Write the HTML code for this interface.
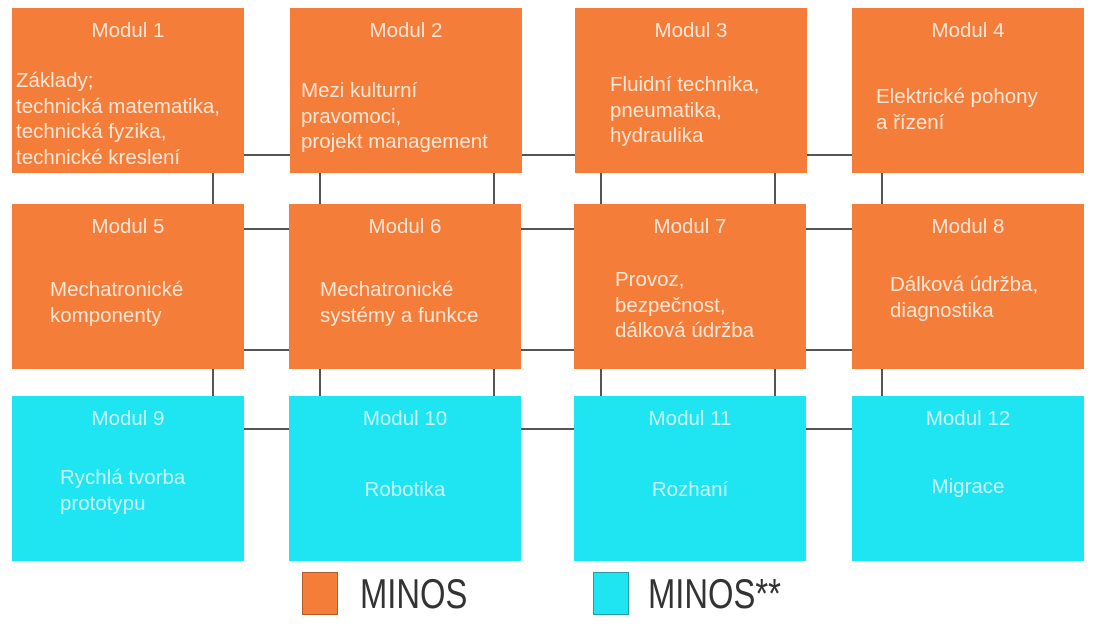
<!DOCTYPE html>
<html><head><meta charset="utf-8"><style>
body{margin:0;width:1095px;height:627px;background:#fff;position:relative;overflow:hidden;font-family:"Liberation Sans",sans-serif}
.b{position:absolute;width:232px;height:165px;color:#fde6d6;font-size:20.5px;line-height:25.5px}
.o{background:#f47d3a}.c{background:#1fe4f1;color:#c8f6fa}
.t{position:absolute;top:10px;left:0;right:0;text-align:center}
.x{position:absolute;left:0;right:0;padding:0 0 0 8px;white-space:nowrap}
.h{position:absolute;height:2px;background:#555}
.v{position:absolute;width:2px;background:#555}
.lg{position:absolute;font-size:42px;color:#333;transform-origin:left top;transform:scaleX(.78)}
</style></head><body>
<div class="h" style="left:244px;width:46px;top:154px"></div>
<div class="h" style="left:521px;width:54px;top:154px"></div>
<div class="h" style="left:806px;width:46px;top:154px"></div>
<div class="h" style="left:244px;width:46px;top:228px"></div>
<div class="h" style="left:521px;width:54px;top:228px"></div>
<div class="h" style="left:806px;width:46px;top:228px"></div>
<div class="h" style="left:244px;width:46px;top:349px"></div>
<div class="h" style="left:521px;width:54px;top:349px"></div>
<div class="h" style="left:806px;width:46px;top:349px"></div>
<div class="h" style="left:244px;width:46px;top:428px"></div>
<div class="h" style="left:521px;width:54px;top:428px"></div>
<div class="h" style="left:806px;width:46px;top:428px"></div>
<div class="v" style="left:212px;top:173px;height:31px"></div>
<div class="v" style="left:319px;top:173px;height:31px"></div>
<div class="v" style="left:493px;top:173px;height:31px"></div>
<div class="v" style="left:600px;top:173px;height:31px"></div>
<div class="v" style="left:774px;top:173px;height:31px"></div>
<div class="v" style="left:881px;top:173px;height:31px"></div>
<div class="v" style="left:212px;top:368px;height:28px"></div>
<div class="v" style="left:319px;top:368px;height:28px"></div>
<div class="v" style="left:493px;top:368px;height:28px"></div>
<div class="v" style="left:600px;top:368px;height:28px"></div>
<div class="v" style="left:774px;top:368px;height:28px"></div>
<div class="v" style="left:881px;top:368px;height:28px"></div>

<div class="b o" style="left:12px;top:8px"><div class="t">Modul 1</div><div class="x" style="top:60px;padding-left:4px">Základy;<br>technická matematika,<br>technická fyzika,<br>technické kreslení</div></div>
<div class="b o" style="left:290px;top:8px"><div class="t">Modul 2</div><div class="x" style="top:70px;padding-left:11px">Mezi kulturní<br>pravomoci,<br>projekt management</div></div>
<div class="b o" style="left:575px;top:8px"><div class="t">Modul 3</div><div class="x" style="top:64px;padding-left:35px">Fluidní technika,<br>pneumatika,<br>hydraulika</div></div>
<div class="b o" style="left:852px;top:8px"><div class="t">Modul 4</div><div class="x" style="top:76px;padding-left:24px">Elektrické pohony<br>a řízení</div></div>

<div class="b o" style="left:12px;top:204px"><div class="t">Modul 5</div><div class="x" style="top:73px;padding-left:38px">Mechatronické<br>komponenty</div></div>
<div class="b o" style="left:289px;top:204px"><div class="t">Modul 6</div><div class="x" style="top:73px;padding-left:31px">Mechatronické<br>systémy a funkce</div></div>
<div class="b o" style="left:574px;top:204px"><div class="t">Modul 7</div><div class="x" style="top:63px;padding-left:41px">Provoz,<br>bezpečnost,<br>dálková údržba</div></div>
<div class="b o" style="left:852px;top:204px"><div class="t">Modul 8</div><div class="x" style="top:68px;padding-left:38px">Dálková údržba,<br>diagnostika</div></div>

<div class="b c" style="left:12px;top:396px"><div class="t">Modul 9</div><div class="x" style="top:69px;padding-left:48px">Rychlá tvorba<br>prototypu</div></div>
<div class="b c" style="left:289px;top:396px"><div class="t">Modul 10</div><div class="x" style="top:81px;text-align:center;padding:0">Robotika</div></div>
<div class="b c" style="left:574px;top:396px"><div class="t">Modul 11</div><div class="x" style="top:81px;text-align:center;padding:0">Rozhaní</div></div>
<div class="b c" style="left:852px;top:396px"><div class="t">Modul 12</div><div class="x" style="top:78px;text-align:center;padding:0">Migrace</div></div>

<div style="position:absolute;left:302px;top:572px;width:34px;height:41px;background:#f47d3a;border:1px solid #b55a2a"></div>
<div class="lg" style="left:360px;top:570px">MINOS</div>
<div style="position:absolute;left:593px;top:572px;width:34px;height:41px;background:#1fe4f1;border:1px solid #2a9aa5"></div>
<div class="lg" style="left:648px;top:570px">MINOS**</div>
</body></html>
